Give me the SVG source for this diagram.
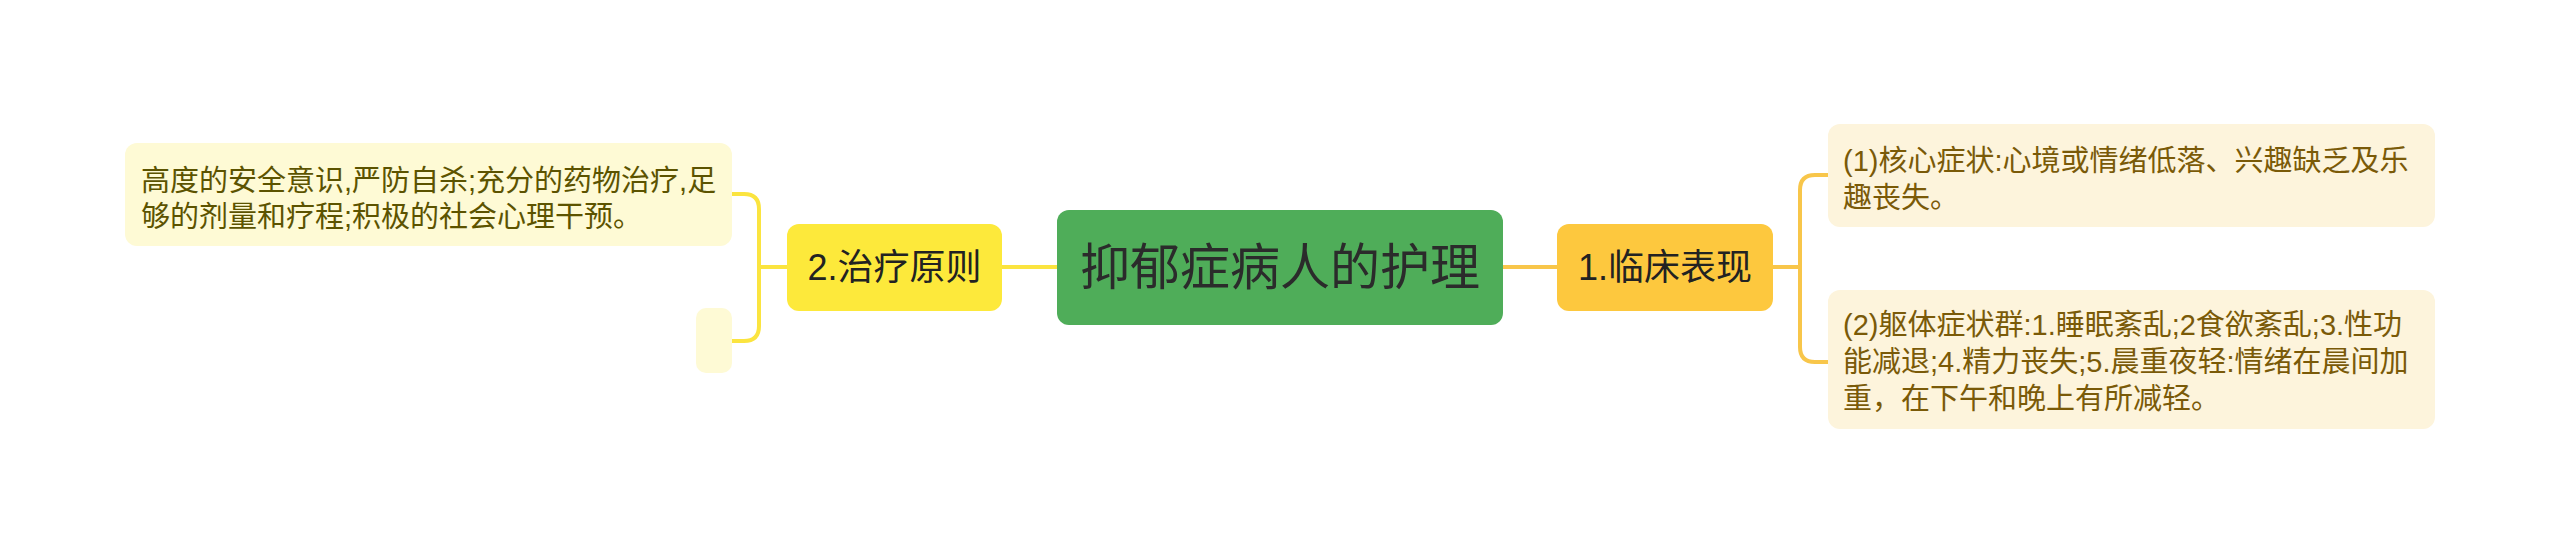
<svg xmlns="http://www.w3.org/2000/svg" width="2560" height="554" viewBox="0 0 2560 554">
<style>
text{font-family:"Liberation Sans","Noto Sans CJK SC",sans-serif}
.c{font-size:50px;fill:#2b2b2b;text-anchor:middle}
.m{font-size:36px;fill:#222;text-anchor:middle}
.l{font-size:29px;fill:#5c5300}
.r{font-size:29px;fill:#7a5a08}
.ly{fill:none;stroke:#fbe43f;stroke-width:4}
.lo{fill:none;stroke:#f8c64a;stroke-width:4}
</style>
<rect width="2560" height="554" fill="#ffffff"/>
<g id="connectors">
<path class="ly" d="M1002,267 H1057"/>
<path class="lo" d="M1503,267 H1557"/>
<path class="ly" d="M787,267 H759 M731,194 H744 Q759,194 759,209 V326 Q759,341 744,341 H731"/>
<path class="lo" d="M1773,267 H1800 M1828,175 H1815 Q1800,175 1800,190 V347 Q1800,362 1815,362 H1828"/>
</g>
<g id="root">
<rect x="1057" y="210" width="446" height="115" rx="12" fill="#4fad59"/>
<text class="c" x="1280" y="285">抑郁症病人的护理</text>
</g>
<g id="n1">
<rect x="1557" y="224" width="216" height="87" rx="12" fill="#fdc83e"/>
<text class="m" x="1665" y="280">1.临床表现</text>
</g>
<g id="n2">
<rect x="787" y="224" width="215" height="87" rx="12" fill="#fde93b"/>
<text class="m" x="894.5" y="280">2.治疗原则</text>
</g>
<g id="n1a">
<rect x="1828" y="124" width="607" height="103" rx="12" fill="#fdf4dc"/>
<text class="r" x="1843" y="170.5">(1)核心症状:心境或情绪低落、兴趣缺乏及乐</text>
<text class="r" x="1843" y="207.5">趣丧失。</text>
</g>
<g id="n1b">
<rect x="1828" y="290" width="607" height="139" rx="12" fill="#fdf4dc"/>
<text class="r" x="1843" y="335">(2)躯体症状群:1.睡眠紊乱;2食欲紊乱;3.性功</text>
<text class="r" x="1843" y="372">能减退;4.精力丧失;5.晨重夜轻:情绪在晨间加</text>
<text class="r" x="1843" y="408.5">重，在下午和晚上有所减轻。</text>
</g>
<g id="n2a">
<rect x="125" y="143" width="607" height="103" rx="12" fill="#fefad5"/>
<text class="l" x="141" y="190.5">高度的安全意识,严防自杀;充分的药物治疗,足</text>
<text class="l" x="141" y="226.5">够的剂量和疗程;积极的社会心理干预。</text>
</g>
<g id="n2b">
<rect x="696" y="308" width="36" height="65" rx="10" fill="#fefad5"/>
</g>
</svg>
